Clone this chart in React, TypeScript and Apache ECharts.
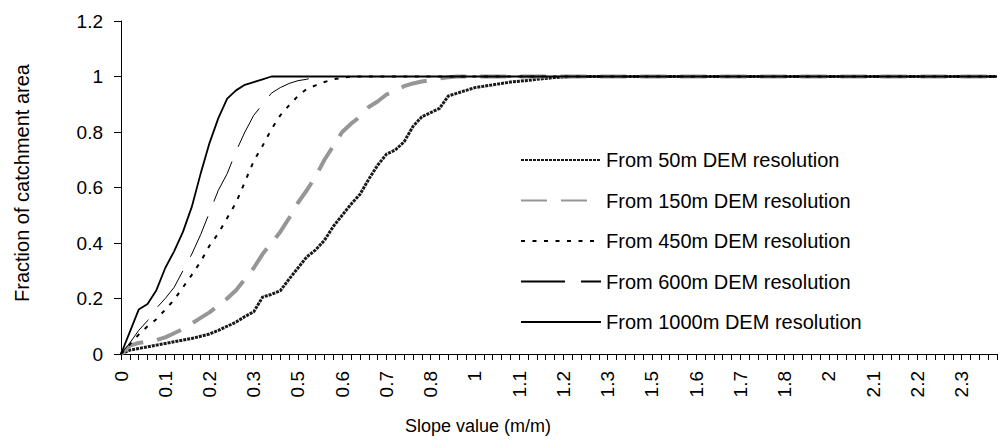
import React, { useEffect, useRef } from "react";
import * as echarts from "echarts";

const xTickLabels = ["0", "0.1", "0.2", "0.3", "0.5", "0.6", "0.7", "0.8", "1", "1.1", "1.2", "1.3", "1.5", "1.6", "1.7", "1.8", "2", "2.1", "2.2", "2.3"];
const categoryCount = 100;
const categories = Array.from({ length: categoryCount }, (_, i) => String(i));

const s50 = [0, 0.014, 0.02, 0.026, 0.032, 0.038, 0.044, 0.05, 0.056, 0.064, 0.072, 0.085, 0.1, 0.115, 0.135, 0.152, 0.205, 0.215, 0.228, 0.27, 0.31, 0.35, 0.375, 0.41, 0.46, 0.5, 0.54, 0.575, 0.63, 0.68, 0.72, 0.735, 0.765, 0.82, 0.855, 0.87, 0.885, 0.93, 0.94, 0.95, 0.96, 0.965, 0.97, 0.975, 0.98, 0.983, 0.986, 0.99, 0.993, 0.996, 0.998,
  1, 1, 1, 1, 1, 1, 1, 1, 1, 1,
  1, 1, 1, 1, 1, 1, 1, 1, 1, 1,
  1, 1, 1, 1, 1, 1, 1, 1, 1, 1,
  1, 1, 1, 1, 1, 1, 1, 1, 1, 1,
  1, 1, 1, 1, 1, 1, 1, 1, 1];

const s150 = [0, 0.03, 0.04, 0.045, 0.05, 0.06, 0.075, 0.09, 0.11, 0.13, 0.15, 0.175, 0.2, 0.23, 0.27, 0.31, 0.36, 0.4, 0.44, 0.49, 0.545, 0.59, 0.64, 0.7, 0.75, 0.8, 0.83, 0.855, 0.89, 0.91, 0.935, 0.95, 0.965, 0.975, 0.982, 0.987, 0.993, 0.997,
  1, 1, 1, 1, 1, 1, 1, 1, 1, 1,
  1, 1, 1, 1, 1, 1, 1, 1, 1, 1,
  1, 1, 1, 1, 1, 1, 1, 1, 1, 1,
  1, 1, 1, 1, 1, 1, 1, 1, 1, 1,
  1, 1, 1, 1, 1, 1, 1, 1, 1, 1,
  1, 1, 1, 1, 1, 1, 1, 1, 1, 1,
  1, 1];

const s450 = [0, 0.035, 0.07, 0.1, 0.125, 0.16, 0.195, 0.24, 0.285, 0.333, 0.39, 0.435, 0.49, 0.545, 0.62, 0.695, 0.75, 0.81, 0.86, 0.896, 0.93, 0.955, 0.968, 0.98, 0.99, 0.995,
  1, 1, 1, 1, 1, 1, 1, 1, 1, 1,
  1, 1, 1, 1, 1, 1, 1, 1, 1, 1,
  1, 1, 1, 1, 1, 1, 1, 1, 1, 1,
  1, 1, 1, 1, 1, 1, 1, 1, 1, 1,
  1, 1, 1, 1, 1, 1, 1, 1, 1, 1,
  1, 1, 1, 1, 1, 1, 1, 1, 1, 1,
  1, 1, 1, 1, 1, 1, 1, 1, 1, 1,
  1, 1, 1, 1];

const s600 = [0, 0.04, 0.085, 0.12, 0.165, 0.2, 0.24, 0.3, 0.36, 0.43, 0.51, 0.59, 0.65, 0.73, 0.8, 0.86, 0.9, 0.94, 0.96, 0.975, 0.985, 0.99,
  1, 1, 1, 1, 1, 1, 1, 1, 1, 1,
  1, 1, 1, 1, 1, 1, 1, 1, 1, 1,
  1, 1, 1, 1, 1, 1, 1, 1, 1, 1,
  1, 1, 1, 1, 1, 1, 1, 1, 1, 1,
  1, 1, 1, 1, 1, 1, 1, 1, 1, 1,
  1, 1, 1, 1, 1, 1, 1, 1, 1, 1,
  1, 1, 1, 1, 1, 1, 1, 1, 1, 1,
  1, 1, 1, 1, 1, 1, 1, 1];

const s1000 = [0, 0.08, 0.16, 0.18, 0.23, 0.31, 0.37, 0.44, 0.53, 0.65, 0.76, 0.85, 0.92, 0.95, 0.97, 0.98, 0.99,
  1, 1, 1, 1, 1, 1, 1, 1, 1, 1,
  1, 1, 1, 1, 1, 1, 1, 1, 1, 1,
  1, 1, 1, 1, 1, 1, 1, 1, 1, 1,
  1, 1, 1, 1, 1, 1, 1, 1, 1, 1,
  1, 1, 1, 1, 1, 1, 1, 1, 1, 1,
  1, 1, 1, 1, 1, 1, 1, 1, 1, 1,
  1, 1, 1, 1, 1, 1, 1, 1, 1, 1,
  1, 1, 1, 1, 1, 1, 1, 1, 1, 1,
  1, 1, 1];

const seriesNames = [
  "From 50m DEM resolution",
  "From 150m DEM resolution",
  "From 450m DEM resolution",
  "From 600m DEM resolution",
  "From 1000m DEM resolution",
];

const FONT = "'Liberation Sans', Arial, sans-serif";

export default function App() {
  const ref = useRef<HTMLDivElement>(null);

  useEffect(() => {
    if (!ref.current) return;
    const chart = echarts.init(ref.current, undefined, { renderer: "svg" });
    const mk = (name: string, data: number[], lineStyle: any) => ({
      name,
      type: "line",
      data,
      symbol: "none",
      smooth: false,
      lineStyle,
      itemStyle: { color: lineStyle.color },
    });
    chart.setOption({
      animation: false,
      backgroundColor: "#ffffff",
      textStyle: { fontFamily: FONT },
      grid: { left: 121, right: 10, top: 21, bottom: 87 },
      xAxis: {
        type: "category",
        data: categories,
        boundaryGap: false,
        axisLine: { lineStyle: { color: "#000", width: 1 } },
        axisTick: { interval: 0, length: 6, lineStyle: { color: "#000" } },
        axisLabel: {
          interval: 4,
          rotate: 90,
          margin: 17,
          fontSize: 19,
          color: "#000",
          fontFamily: FONT,
          formatter: (_v: string, idx: number) => (idx % 5 === 0 ? xTickLabels[idx / 5] ?? "" : ""),
        },
        splitLine: { show: false },
      },
      yAxis: {
        type: "value",
        min: 0,
        max: 1.2,
        interval: 0.2,
        axisLine: { show: true, lineStyle: { color: "#000", width: 1 } },
        axisTick: { show: true, length: 7, lineStyle: { color: "#000" } },
        axisLabel: {
          margin: 18,
          fontSize: 19,
          color: "#000",
          fontFamily: FONT,
          formatter: (v: number) => String(parseFloat(v.toFixed(1))),
        },
        splitLine: { show: false },
      },
      legend: {
        orient: "vertical",
        left: 515,
        top: 145,
        itemWidth: 80,
        itemHeight: 20,
        itemGap: 20.5,
        selectedMode: false,
        itemStyle: { opacity: 0 },
        textStyle: { fontSize: 20, color: "#000", fontFamily: FONT },
        data: seriesNames,
      },
      graphic: [
        {
          type: "text",
          x: 22,
          y: 183,
          rotation: Math.PI / 2,
          style: {
            text: "Fraction of catchment area",
            fontSize: 20,
            fontFamily: FONT,
            fill: "#000",
            align: "center",
            verticalAlign: "middle",
          },
        },
        {
          type: "text",
          x: 478,
          y: 426,
          style: {
            text: "Slope value (m/m)",
            fontSize: 18,
            fontFamily: FONT,
            fill: "#000",
            align: "center",
            verticalAlign: "middle",
          },
        },
      ],
      series: [
        mk(seriesNames[0], s50, { color: "#1a1a1a", width: 3, type: [3, 1] }),
        mk(seriesNames[1], s150, { color: "#969696", width: 4, type: [26, 14] }),
        mk(seriesNames[2], s450, { color: "#000", width: 2, type: [4, 7.5] }),
        mk(seriesNames[3], s600, { color: "#000", width: 1, type: [44, 16] }),
        mk(seriesNames[4], s1000, { color: "#000", width: 1.8, type: "solid" }),
      ],
    });
    return () => chart.dispose();
  }, []);

  return (
    <div
      ref={ref}
      style={{ position: "absolute", left: 0, top: 0, width: 1007, height: 441, background: "#fff" }}
    />
  );
}
